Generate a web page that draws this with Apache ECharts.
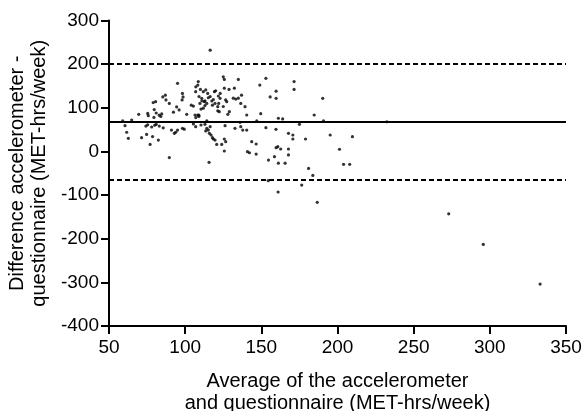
<!DOCTYPE html>
<html>
<head>
<meta charset="utf-8">
<script src="https://cdn.jsdelivr.net/npm/echarts@6/dist/echarts.min.js"></script>
<style>
html,body{margin:0;padding:0;background:#fff;}
#chart{width:585px;height:411px;}
</style>
</head>
<body>
<div id="chart"></div>
<script>
// Average of the two methods (x) and their difference (y)
const averageValues = [
  59,60.5,61.6,62.7,64.9,69.5,71.4,74.7,75.4,75.8,75.4,77,78,78.6,79,79.7,80.6,80,81,81,82.4,83,83,84,84.6,85.3,85.6,87,87.4,89.6,89.6,91,92.3,92.9,74.2,79.5,
  95,98.2,98.6,94.4,101,95,93.8,98.2,99.4,105.4,106.5,108.3,109,107,106.9,108.6,108.3,109.1,110.9,109.7,111.9,110.4,111.9,113,114.2,112.6,115.2,114.8,116.4,117.5,117.9,119.2,120,121.8,122.9,119.6,121.4,121.4,122.4,125,125.7,125.7,126.6,127.3,128.8,131.6,133.2,134.9,132.3,134.9,128,132.7,
  105.4,106.9,110.4,113,114.2,114.2,113.5,115.2,116.4,115.9,117,117.9,118.5,119.6,120.7,124,125.7,126.6,125.7,126.2,115.7,116.4,
  96,98,104,107,109,110,111,113,113.5,118.5,122,123,125,129,
  137,136.5,139.3,140.4,149.6,161.2,164,147,136,136.5,137.8,140.4,153,159.6,175,167.8,170.7,170.7,179,143.7,146.6,159.7,160.8,162.7,167.8,167.8,140.9,142.2,146.6,154.7,158.6,161.2,165.6,153,149,159.7,159.7,155.8,171.5,171.5,
  184.7,190.3,190.8,195.2,209.8,201.3,204,208,232.4,
  181,183.8,176.5,161,186.7,154.5,273,295.7,333
];
const differenceValues = [
  70,59,44,30,72,85,31.5,39,87,82,61,16,56,34,112,96,114,60,62,88,26,58,83,80,86,125,54,129,118,110,-14,49,90,41.5,58,78,
  156,133,125,102,85,49,44,53,51,104,83.5,83.5,80,77.5,137,160,152,125.6,121.6,110,137,97,99,105,110,114,123,133,125.6,115.5,106,137,139,127,121.6,110,102.5,93,91,171,165,145,118,114,142,122,120,122,145,165,85,53,
  63,56.7,60.5,62,70,53,47,49,56.7,41.5,37.6,31.5,28.5,26,16,16,28.5,22.3,1,59,-25,232,
  95,118,106,148,83,142,116,116,141,119,110,133,103,91,
  129,110,102.5,83.5,86.5,76,74.4,70,66.7,56.7,49,49,54.4,50.7,62,41.5,37.6,28.5,28.5,22.3,17,8.6,11,5.6,5.6,-8,-0.6,-3,-6,-19.7,-12,-27,-27,167.5,152,138,121.6,125,160,142,
  83.5,121.6,70,37.6,33.8,5,-29.5,-29.5,68,
  -39,-55,-77,-93,-116.6,-67,-143,-213,-304
];
const meanDifference = 67;
const upperLimit = 200;
const lowerLimit = -66;

const xTicks = { min: 50, max: 350, interval: 50 };
const yTicks = { min: -400, max: 300, interval: 100 };

const points = averageValues.map((v, i) => [v, differenceValues[i]]);

const font = "'Liberation Sans', Arial, Helvetica, sans-serif";
const chart = echarts.init(document.getElementById('chart'), null, { renderer: 'canvas' });
const axisCommon = {
  axisLine: { show: true, onZero: false, lineStyle: { color: '#000', width: 2 } },
  axisTick: { show: true, inside: false, length: 8, lineStyle: { color: '#000', width: 2 } },
  splitLine: { show: false },
  nameTextStyle: { color: '#000', fontSize: 20, fontFamily: font, lineHeight: 22 },
};
chart.setOption({
  animation: false,
  backgroundColor: '#fff',
  grid: { left: 109, right: 19, top: 20.5, bottom: 85, containLabel: false, outerBoundsMode: 'none' },
  xAxis: Object.assign({}, axisCommon, {
    type: 'value',
    min: xTicks.min, max: xTicks.max, interval: xTicks.interval,
    name: 'Average of the accelerometer\nand questionnaire (MET-hrs/week)',
    nameLocation: 'middle', nameGap: 44,
    axisLabel: { color: '#000', fontSize: 19, fontFamily: font, margin: 12 }
  }),
  yAxis: Object.assign({}, axisCommon, {
    type: 'value',
    min: yTicks.min, max: yTicks.max, interval: yTicks.interval,
    name: 'Difference accelerometer -\nquestionnaire (MET-hrs/week)',
    nameLocation: 'middle', nameGap: 56, nameRotate: 90,
    axisLabel: { color: '#000', fontSize: 19, fontFamily: font, margin: 10 }
  }),
  series: [{
    type: 'scatter',
    data: points,
    symbol: 'circle',
    symbolSize: 3.2,
    itemStyle: { color: '#000' },
    silent: true,
    markLine: {
      silent: true,
      symbol: ['none', 'none'],
      label: { show: false },
      data: [
        { yAxis: meanDifference, lineStyle: { type: 'solid', color: '#000', width: 2 } },
        { yAxis: upperLimit, lineStyle: { type: [5, 3], color: '#000', width: 2 } },
        { yAxis: lowerLimit, lineStyle: { type: [5, 3], color: '#000', width: 2 } }
      ]
    }
  }]
});
</script>
</body>
</html>
